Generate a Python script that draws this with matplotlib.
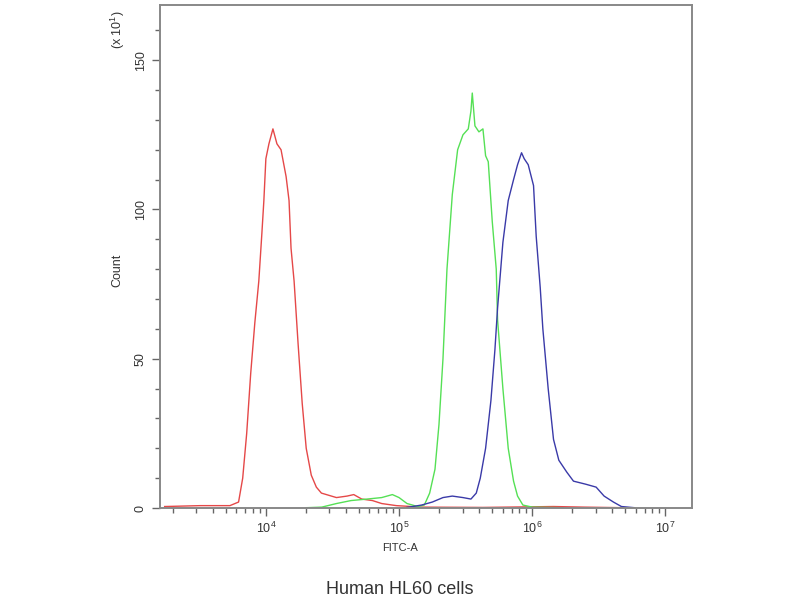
import numpy as np
import matplotlib
matplotlib.use("Agg")
import matplotlib.pyplot as plt
from matplotlib.ticker import LogLocator, FixedLocator, MultipleLocator

plt.rcParams['font.family'] = ['Liberation Sans', 'DejaVu Sans']
plt.rcParams['mathtext.fontset'] = 'custom'
plt.rcParams['mathtext.rm'] = 'Liberation Sans'
plt.rcParams['mathtext.it'] = 'Liberation Sans'

# log10(FITC-A) and counts (x10^1)
red_log = [3.24, 3.51, 3.73, 3.795, 3.826, 3.856, 3.886, 3.917, 3.947, 3.970, 3.985, 4.0,
           4.023, 4.053, 4.083, 4.114, 4.152, 4.174, 4.189, 4.212, 4.242, 4.273, 4.303,
           4.341, 4.379, 4.417, 4.53, 4.61, 4.66, 4.72, 4.80, 4.87, 4.98, 5.17, 5.63,
           6.16, 6.39, 6.69]
red_cnt = [0.5, 0.8, 0.8, 2, 10, 25, 45, 62, 76, 92, 103, 117,
           122, 127, 122, 120, 111, 103, 87, 76, 55, 35, 20,
           11, 7, 5, 3.5, 4, 4.5, 3, 2.5, 1.5, 0.8, 0.3, 0.2,
           0.5, 0.3, 0.1]

green_log = [4.30, 4.42, 4.53, 4.64, 4.76, 4.87, 4.95, 5.0, 5.06, 5.14, 5.19, 5.23, 5.27,
             5.30, 5.33, 5.36, 5.40, 5.44, 5.48, 5.52, 5.54, 5.55, 5.57, 5.60, 5.63,
             5.65, 5.67, 5.70, 5.73, 5.74, 5.78, 5.82, 5.86, 5.89, 5.93, 6.0, 6.23]
green_cnt = [0.1, 0.3, 1.5, 2.5, 3, 3.5, 4.5, 3.5, 1.5, 0.5, 1, 5, 13,
             28, 50, 80, 105, 120, 125, 127, 133, 139, 128, 126, 127,
             118, 116, 96, 80, 63, 40, 20, 9, 4, 1, 0.3, 0.1]

blue_log = [5.06, 5.17, 5.25, 5.33, 5.40, 5.48, 5.54, 5.58, 5.61, 5.65, 5.69, 5.72, 5.74,
            5.78, 5.82, 5.86, 5.89, 5.92, 5.94, 5.97, 6.01, 6.03, 6.06, 6.08, 6.12,
            6.16, 6.20, 6.26, 6.31, 6.40, 6.48, 6.54, 6.61, 6.67, 6.77]
blue_cnt = [0.2, 1, 2, 3.5, 4, 3.5, 3, 5, 10, 20, 36, 53, 67,
            89, 103, 110, 115, 119, 117, 115, 108, 91, 74, 60, 40,
            23, 16, 12, 9, 8, 7, 4, 2, 0.5, 0.1]

fig = plt.figure(figsize=(8, 6), dpi=100)
ax = fig.add_axes([0.2, 0.1533, 0.665, 0.8384])

ax.plot(10 ** np.array(red_log), red_cnt, color='#e54848', lw=1.0)
ax.plot(10 ** np.array(green_log), green_cnt, color='#55e055', lw=1.0)
ax.plot(10 ** np.array(blue_log), blue_cnt, color='#3a3aa8', lw=1.0)

ax.set_xscale('log')
ax.set_xlim(10 ** 3.205, 10 ** 7.2)
ax.set_ylim(0, 168.5)

ax.xaxis.set_major_locator(FixedLocator([1e4, 1e5, 1e6, 1e7]))
ax.xaxis.set_minor_locator(LogLocator(base=10, subs=np.arange(2, 10), numticks=20))
ax.set_xticklabels([r'$10^{4}$', r'$10^{5}$', r'$10^{6}$', r'$10^{7}$'])
ax.yaxis.set_major_locator(FixedLocator([0, 50, 100, 150]))
ax.yaxis.set_minor_locator(MultipleLocator(10))
ax.set_yticklabels(['0', '50', '100', '150'], rotation=90, va='center')

ax.tick_params(which='major', length=6, width=1, colors='#666666', labelcolor='#333333', labelsize=9)
ax.tick_params(which='minor', length=3.5, width=1, colors='#666666')
for s in ax.spines.values():
    s.set_color('#888888')
    s.set_linewidth(1.4)

fig.text(0.5, 0.087, 'FITC-A', ha='center', va='center', fontsize=8, color='#333333')
fig.text(0.147, 0.55, 'Count', rotation=90, ha='center', va='center', fontsize=9, color='#333333')
fig.text(0.147, 0.95, r'(x 10$^{1}$)', rotation=90, ha='center', va='center', fontsize=9, color='#333333')
fig.text(0.5, 0.017, 'Human HL60 cells', ha='center', va='center', fontsize=13, color='#333333')

fig.savefig('out.png', dpi=100)
